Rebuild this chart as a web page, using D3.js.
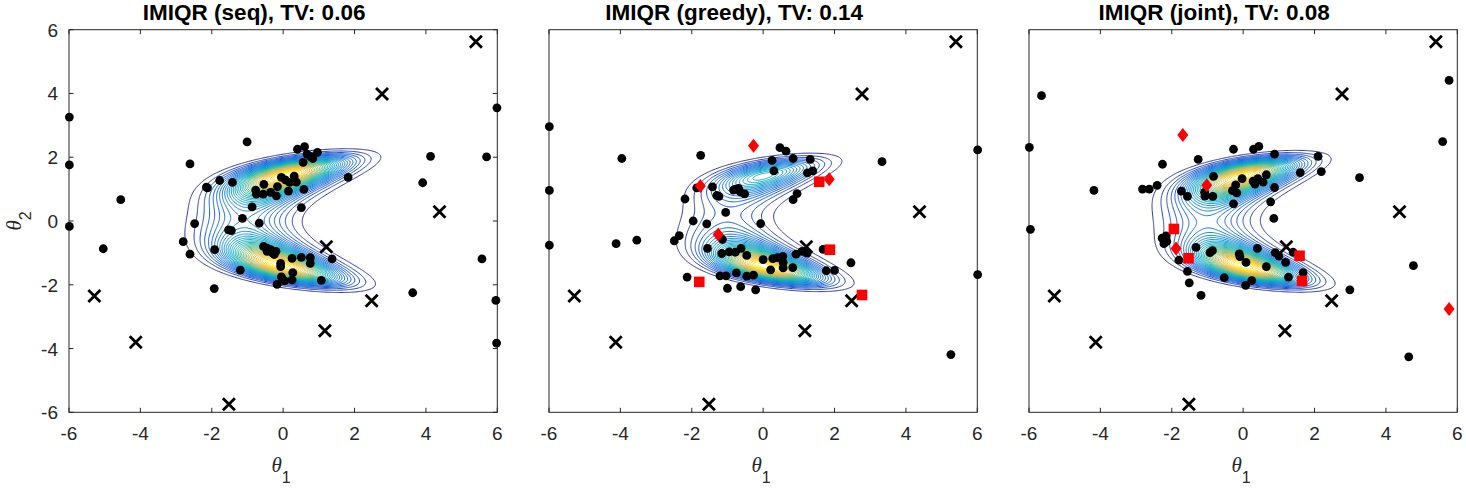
<!DOCTYPE html>
<html><head><meta charset="utf-8">
<script src="https://cdn.jsdelivr.net/npm/d3@7"></script>
<style>body{margin:0;background:#fff}svg{display:block}</style>
</head><body><svg id="c" width="1466" height="488"></svg>
<script>
// ---------- data ----------
const titles = ["IMIQR (seq), TV: 0.06", "IMIQR (greedy), TV: 0.14", "IMIQR (joint), TV: 0.08"];
const tickVals = [-6, -4, -2, 0, 2, 4, 6];

const crossPts = [[5.40,5.62],[2.77,3.98],[4.38,0.29],[1.21,-0.81],[-5.29,-2.35],[2.48,-2.50],[1.17,-3.44],[-4.13,-3.80],[-1.52,-5.75]];

const dotsSeq = [[-5.99,3.26],[-5.99,1.76],[-5.99,-0.17],[-5.04,-0.87],[-4.55,0.67],[-1.01,2.48],[-2.61,1.79],[-2.15,1.06],[-2.12,1.04],[-1.78,1.27],[-1.42,1.21],[-2.48,-0.08],[-2.80,-0.65],[-2.61,-1.04],[-1.92,-0.90],[-1.93,-2.12],[-1.20,-1.54],[-1.53,-0.28],[-1.45,-0.30],[-1.14,0.08],[-0.87,0.44],[-0.67,-0.07],[-0.77,0.97],[-0.75,0.84],[-0.56,0.84],[-0.54,1.15],[-0.35,0.90],[-0.19,0.79],[-0.16,1.08],[-0.05,1.37],[0.06,1.29],[0.18,1.21],[0.15,0.94],[0.31,1.41],[0.37,1.22],[0.58,0.99],[0.56,1.84],[0.40,2.25],[0.60,2.33],[0.67,2.10],[0.77,2.02],[0.83,1.96],[0.96,2.15],[0.51,0.42],[1.82,1.37],[-0.55,-0.80],[-0.45,-0.85],[-0.35,-0.90],[-0.30,-1.00],[-0.20,-0.95],[-0.45,-0.95],[-0.25,-1.05],[-0.07,-1.33],[-0.07,-1.43],[0.25,-1.17],[0.51,-1.14],[0.76,-1.15],[0.76,-1.33],[1.37,-1.19],[0.27,-1.62],[-0.05,-1.75],[0.04,-1.88],[0.25,-1.85],[-0.17,-1.99],[1.07,-1.86],[3.63,-2.25],[3.91,1.20],[4.13,2.03],[5.70,2.01],[5.57,-1.19],[5.99,3.55],[5.96,-2.49],[5.98,-3.83]];

const dotsGreedy = [[-5.99,2.96],[-5.99,0.96],[-5.99,-0.76],[-3.96,1.96],[-4.12,-0.71],[-3.54,-0.60],[-1.75,2.06],[-2.19,0.69],[-1.86,1.04],[-1.42,1.07],[-1.30,0.80],[-1.24,0.77],[-1.05,0.27],[-1.96,0.00],[-1.58,-0.09],[-2.49,-0.62],[-2.35,-0.46],[-1.56,-0.86],[-1.16,-1.02],[-1.14,-0.58],[-0.95,-0.97],[-0.78,-0.98],[-0.83,0.97],[-0.69,1.02],[-0.64,0.91],[-0.78,1.00],[-0.52,0.85],[-0.62,-0.86],[-0.46,-1.08],[-0.75,-1.63],[-0.46,-1.73],[-0.27,-1.70],[-1.21,-1.72],[-1.04,-1.72],[-2.13,-1.76],[-1.00,-2.11],[-0.63,-2.06],[-0.21,-2.16],[0.00,-1.21],[0.21,-1.53],[0.27,-1.18],[0.40,-1.15],[0.55,-1.11],[0.56,-1.30],[0.56,-1.47],[0.83,-1.46],[0.92,-1.04],[1.09,-0.95],[1.23,-1.01],[1.68,-0.89],[1.77,-1.56],[2.00,-1.55],[2.46,-1.31],[-0.07,-0.08],[0.47,2.30],[0.64,2.19],[0.25,1.90],[0.84,1.96],[1.32,1.93],[0.30,1.57],[1.24,1.51],[1.39,1.57],[0.95,0.86],[0.84,0.67],[3.33,1.86],[6.01,2.23],[6.01,-1.68],[5.26,-4.19]];

const dotsJoint = [[-5.65,3.93],[-5.99,2.31],[-5.96,-0.26],[-4.18,0.96],[-2.82,1.00],[-2.63,1.00],[-2.41,1.12],[-2.26,1.78],[-1.26,1.93],[-1.73,0.94],[-1.56,0.77],[-1.08,0.90],[-1.07,0.78],[-0.83,1.40],[-0.85,0.77],[-0.30,0.95],[-0.21,1.13],[-0.18,0.88],[-0.27,0.54],[-0.03,1.33],[0.28,1.25],[0.41,1.33],[0.56,1.22],[0.33,1.16],[0.65,1.45],[0.88,1.05],[0.77,0.60],[0.86,0.08],[-0.27,2.25],[0.29,2.25],[0.44,2.34],[0.88,2.10],[1.60,1.52],[2.10,2.03],[2.19,1.55],[3.26,1.36],[5.59,2.49],[5.77,4.41],[4.77,-1.40],[4.64,-4.26],[2.99,-2.16],[-2.27,-0.54],[-2.16,-0.47],[-2.22,-0.71],[-2.14,-0.64],[-1.80,-1.23],[-1.32,-0.83],[-1.56,-1.58],[-1.51,-1.94],[-1.18,-2.33],[-0.93,-0.99],[-0.86,-0.93],[-0.53,-1.78],[-0.11,-1.03],[-0.09,-1.12],[0.08,-1.30],[0.07,-2.02],[0.24,-1.87],[0.40,-0.86],[0.65,-1.43],[0.90,-0.99],[1.00,-1.10],[1.19,-1.30],[1.27,-1.76],[1.68,-1.62],[1.40,-0.98]];

const squaresGreedy = [[1.57,1.23],[1.87,-0.90],[-1.79,-1.91],[2.77,-2.32]];
const diamondsGreedy = [[-0.27,2.36],[-1.76,1.10],[1.85,1.31],[-1.26,-0.42]];
const squaresJoint = [[-1.94,-0.25],[-1.53,-1.17],[1.58,-1.09],[1.65,-1.88]];
const diamondsJoint = [[-1.69,2.70],[-1.02,1.12],[-1.88,-0.86],[5.77,-2.76]];

// banana-shaped posterior estimate drawn as contours (one parameter per panel)
const ridgeOffset = [1.97, 1.97, 1.97];
const ridgeSlope  = [0.74, 0.70, 0.72];
const ridgeWidth  = [0.90, 0.86, 0.88];
const spreadT1    = [1.00, 0.93, 0.94];
const upperWeight = [1.00, 0.45, 0.97];
const lowerWeight = [1.00, 1.00, 1.00];
const upperShift  = [0.05, 0.00, -0.05];
const lowerShift  = [-0.10, 0.05, 0.05];
const nLevels = 36;
const parulaStops = ['#352a87','#0f5cdd','#1481d6','#06a4ca','#2eb7a4','#87bf77','#d1bb59','#fec832','#f9fb0e'];

const panelDots = [dotsSeq, dotsGreedy, dotsJoint];
const panelSquares = [[], squaresGreedy, squaresJoint];
const panelDiamonds = [[], diamondsGreedy, diamondsJoint];

// ---------- layout ----------
const panelLeft = [69, 549, 1029];
const panelW = 428.3;
const plotTop = 29.7, plotBottom = 412.3;
const axisColor = '#262626';

const svg = d3.select('#c');
const parula = d3.scaleLinear().domain(parulaStops.map((_, i) => i / (parulaStops.length - 1))).range(parulaStops).interpolate(d3.interpolateRgb);

const gx0 = -3.6, gx1 = 3.6, gy0 = -3.2, gy1 = 3.2, gstep = 0.03;
const nx = Math.round((gx1 - gx0) / gstep) + 1, ny = Math.round((gy1 - gy0) / gstep) + 1;

function sig(v) { return 1 / (1 + Math.exp(-v)); }

for (let p = 0; p < 3; p++) {
  const L = panelLeft[p];
  const x = d3.scaleLinear().domain([-6, 6]).range([L, L + panelW]);
  const y = d3.scaleLinear().domain([-6, 6]).range([plotBottom, plotTop]);
  const g = svg.append('g');

  const clipId = 'clip' + p;
  svg.append('clipPath').attr('id', clipId).append('rect')
    .attr('x', L).attr('y', plotTop).attr('width', panelW).attr('height', plotBottom - plotTop);

  const vals = new Array(nx * ny);
  const c = ridgeOffset[p], d = ridgeSlope[p], s = ridgeWidth[p], t = spreadT1[p];
  for (let j = 0; j < ny; j++) {
    const yy = gy0 + j * gstep;
    for (let i = 0; i < nx; i++) {
      const xx = gx0 + i * gstep;
      const r = (yy * yy - c - d * xx);
      const ridge = Math.exp(-(r * r) / (2 * s * s));
      const du = xx - upperShift[p], dl = xx - lowerShift[p];
      const up = upperWeight[p] * Math.exp(-(du * du) / (2 * t * t));
      const lo = lowerWeight[p] * Math.exp(-(dl * dl) / (2 * t * t));
      const w = sig(4 * yy);
      vals[j * nx + i] = ridge * (w * up + (1 - w) * lo);
    }
  }
  const vmax = d3.max(vals);
  const levels = d3.range(1, nLevels + 1).map(i => vmax * i / (nLevels + 1));
  const cont = d3.contours().size([nx, ny]).thresholds(levels)(vals);
  const proj = d3.geoTransform({
    point(px, py) { this.stream.point(x(gx0 + (px - 0.5) * gstep), y(gy0 + (py - 0.5) * gstep)); }
  });
  const path = d3.geoPath(proj);
  g.append('g').attr('clip-path', `url(#${clipId})`)
    .selectAll('path').data(cont).join('path')
    .attr('d', path).attr('fill', 'none')
    .attr('stroke', dd => parula(dd.value / vmax))
    .attr('stroke-width', 1);

  g.append('rect').attr('x', L).attr('y', plotTop).attr('width', panelW).attr('height', plotBottom - plotTop)
    .attr('fill', 'none').attr('stroke', axisColor).attr('stroke-width', 1);

  const tl = 4.5;
  tickVals.forEach(v => {
    g.append('line').attr('x1', x(v)).attr('x2', x(v)).attr('y1', plotBottom).attr('y2', plotBottom - tl).attr('stroke', axisColor);
    g.append('line').attr('x1', x(v)).attr('x2', x(v)).attr('y1', plotTop).attr('y2', plotTop + tl).attr('stroke', axisColor);
    g.append('text').attr('x', x(v)).attr('y', plotBottom + 28).attr('text-anchor', 'middle')
      .attr('font-family', 'Liberation Sans, Arial, sans-serif').attr('font-size', 19).attr('fill', axisColor).text(v);
  });
  if (p === 0) {
    tickVals.forEach(v => {
      g.append('line').attr('x1', L).attr('x2', L + tl).attr('y1', y(v)).attr('y2', y(v)).attr('stroke', axisColor);
      g.append('line').attr('x1', L + panelW).attr('x2', L + panelW - tl).attr('y1', y(v)).attr('y2', y(v)).attr('stroke', axisColor);
      g.append('text').attr('x', L - 11).attr('y', y(v) + 7).attr('text-anchor', 'end')
        .attr('font-family', 'Liberation Sans, Arial, sans-serif').attr('font-size', 19).attr('fill', axisColor).text(v);
    });
    const yl = g.append('text').attr('transform', `translate(21,${y(0)}) rotate(-90)`).attr('text-anchor', 'middle').attr('fill', axisColor);
    yl.append('tspan').attr('font-family', 'Liberation Serif, serif').attr('font-style', 'italic').attr('font-size', 21).text('θ');
    yl.append('tspan').attr('font-family', 'Liberation Sans, Arial, sans-serif').attr('font-size', 16).attr('dy', 10).text('2');
  }
  const xl = g.append('text').attr('x', x(0) - 2).attr('y', 472).attr('text-anchor', 'middle').attr('fill', axisColor);
  xl.append('tspan').attr('font-family', 'Liberation Serif, serif').attr('font-style', 'italic').attr('font-size', 21).text('θ');
  xl.append('tspan').attr('font-family', 'Liberation Sans, Arial, sans-serif').attr('font-size', 16).attr('dy', 11).text('1');

  g.append('text').attr('x', x(0) - 29).attr('y', 20).attr('text-anchor', 'middle')
    .attr('font-family', 'Liberation Sans, Arial, sans-serif').attr('font-weight', 'bold').attr('font-size', 22.5)
    .attr('fill', '#000').text(titles[p]);

  g.append('g').selectAll('path').data(crossPts).join('path')
    .attr('transform', dd => `translate(${x(dd[0])},${y(dd[1])})`)
    .attr('d', 'M-6,-6L6,6M-6,6L6,-6').attr('stroke', '#000').attr('stroke-width', 2.8).attr('fill', 'none');
  g.append('g').selectAll('circle').data(panelDots[p]).join('circle')
    .attr('cx', dd => x(dd[0])).attr('cy', dd => y(dd[1])).attr('r', 4.4).attr('fill', '#000');
  g.append('g').selectAll('rect').data(panelSquares[p]).join('rect')
    .attr('x', dd => x(dd[0]) - 5.3).attr('y', dd => y(dd[1]) - 5.3).attr('width', 10.6).attr('height', 10.6).attr('fill', '#ff0000');
  g.append('g').selectAll('path').data(panelDiamonds[p]).join('path')
    .attr('transform', dd => `translate(${x(dd[0])},${y(dd[1])})`)
    .attr('d', 'M0,-7L5.5,0L0,7L-5.5,0Z').attr('fill', '#ff0000');
}
</script></body></html>
